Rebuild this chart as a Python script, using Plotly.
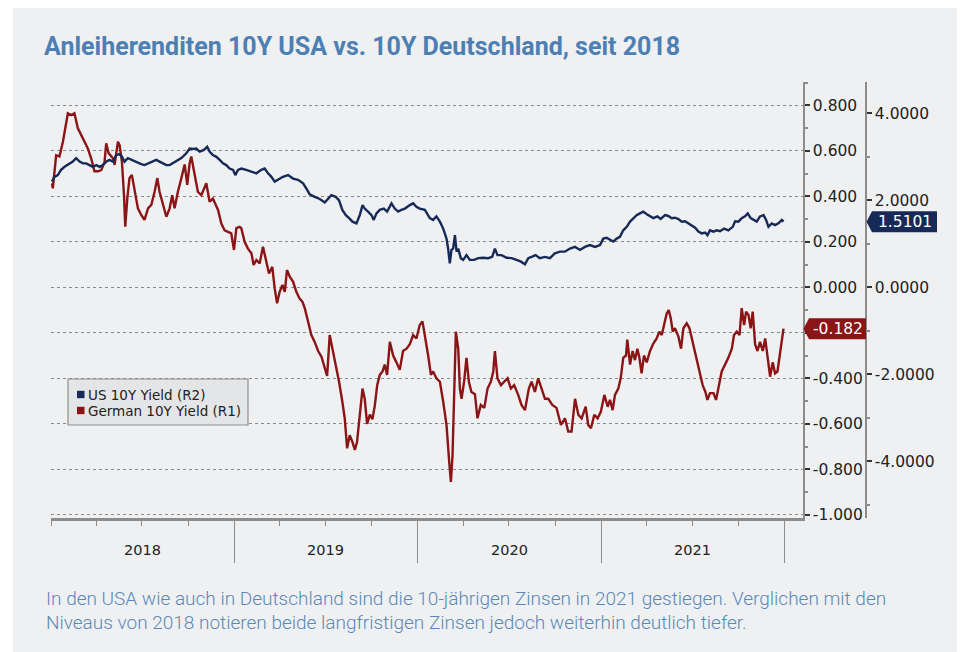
import pandas as pd
import plotly.graph_objects as go

# ---------------- data ----------------
# time as decimal years, yields in percent
de_t = [2018.005, 2018.010, 2018.028, 2018.046, 2018.065, 2018.083, 2018.092, 2018.110, 2018.128, 2018.146,
        2018.165, 2018.183, 2018.201, 2018.219, 2018.237, 2018.256, 2018.274, 2018.292, 2018.301, 2018.314,
        2018.328, 2018.338, 2018.347, 2018.365, 2018.374, 2018.387, 2018.398, 2018.405, 2018.416, 2018.428,
        2018.441, 2018.456, 2018.474, 2018.492, 2018.510, 2018.529, 2018.547, 2018.565, 2018.580, 2018.592,
        2018.610, 2018.629, 2018.647, 2018.661, 2018.674, 2018.692, 2018.711, 2018.729, 2018.743, 2018.756,
        2018.765, 2018.783, 2018.801, 2018.820, 2018.847, 2018.865, 2018.883, 2018.911, 2018.929, 2018.947,
        2018.965, 2018.983, 2018.998, 2019.011, 2019.029, 2019.038, 2019.056, 2019.074, 2019.093, 2019.105,
        2019.120, 2019.138, 2019.156, 2019.174, 2019.189, 2019.207, 2019.220, 2019.233, 2019.247, 2019.262,
        2019.275, 2019.287, 2019.302, 2019.320, 2019.338, 2019.356, 2019.371, 2019.384, 2019.402, 2019.420,
        2019.438, 2019.457, 2019.475, 2019.493, 2019.506, 2019.520, 2019.535, 2019.553, 2019.571, 2019.589,
        2019.602, 2019.615, 2019.629, 2019.644, 2019.657, 2019.669, 2019.684, 2019.699, 2019.711, 2019.724,
        2019.739, 2019.753, 2019.766, 2019.779, 2019.793, 2019.808, 2019.820, 2019.833, 2019.848, 2019.866,
        2019.884, 2019.902, 2019.920, 2019.939, 2019.957, 2019.975, 2019.993, 2020.011, 2020.026, 2020.039,
        2020.057, 2020.072, 2020.084, 2020.102, 2020.121, 2020.139, 2020.157, 2020.172, 2020.181, 2020.190,
        2020.199, 2020.208, 2020.221, 2020.230, 2020.239, 2020.253, 2020.266, 2020.279, 2020.293, 2020.312,
        2020.326, 2020.344, 2020.363, 2020.381, 2020.399, 2020.412, 2020.421, 2020.435, 2020.454, 2020.475,
        2020.490, 2020.508, 2020.526, 2020.548, 2020.566, 2020.585, 2020.606, 2020.621, 2020.639, 2020.657,
        2020.676, 2020.694, 2020.712, 2020.734, 2020.757, 2020.781, 2020.803, 2020.821, 2020.839, 2020.858,
        2020.876, 2020.894, 2020.916, 2020.930, 2020.945, 2020.963, 2020.981, 2020.999, 2021.018, 2021.036,
        2021.049, 2021.063, 2021.076, 2021.094, 2021.107, 2021.121, 2021.136, 2021.143, 2021.158, 2021.172,
        2021.185, 2021.198, 2021.209, 2021.221, 2021.234, 2021.249, 2021.267, 2021.285, 2021.303, 2021.318,
        2021.331, 2021.343, 2021.358, 2021.369, 2021.380, 2021.391, 2021.403, 2021.422, 2021.436, 2021.449,
        2021.467, 2021.482, 2021.500, 2021.518, 2021.536, 2021.554, 2021.569, 2021.580, 2021.594, 2021.613,
        2021.627, 2021.642, 2021.658, 2021.676, 2021.694, 2021.713, 2021.725, 2021.740, 2021.755, 2021.767,
        2021.780, 2021.791, 2021.804, 2021.816, 2021.827, 2021.840, 2021.853, 2021.867, 2021.882, 2021.895,
        2021.907, 2021.922, 2021.936, 2021.949, 2021.962, 2021.973, 2021.986, 2021.995]
de_yield = [0.457, 0.435, 0.58, 0.575, 0.64, 0.714, 0.765, 0.757, 0.765, 0.70,
            0.67, 0.64, 0.61, 0.567, 0.51, 0.51, 0.515, 0.55, 0.633, 0.59,
            0.575, 0.567, 0.538, 0.64, 0.625, 0.55, 0.405, 0.266, 0.39, 0.48,
            0.494, 0.42, 0.347, 0.318, 0.296, 0.347, 0.362, 0.42, 0.48, 0.42,
            0.36, 0.31, 0.347, 0.405, 0.347, 0.42, 0.48, 0.54, 0.45, 0.545,
            0.575, 0.494, 0.42, 0.405, 0.457, 0.376, 0.39, 0.34, 0.28, 0.25,
            0.245, 0.237, 0.164, 0.26, 0.266, 0.26, 0.20, 0.17, 0.15, 0.098,
            0.12, 0.105, 0.178, 0.105, 0.061, 0.09, -0.005, -0.07, -0.02, 0.01,
            -0.02, 0.076, 0.047, 0.025, -0.02, -0.05, -0.063, -0.092, -0.15, -0.21,
            -0.24, -0.28, -0.305, -0.356, -0.39, -0.21, -0.27, -0.356, -0.415, -0.503,
            -0.576, -0.708, -0.65, -0.68, -0.715, -0.68, -0.56, -0.445, -0.49, -0.60,
            -0.56, -0.58, -0.52, -0.43, -0.385, -0.37, -0.34, -0.385, -0.24, -0.30,
            -0.33, -0.363, -0.28, -0.27, -0.25, -0.21, -0.225, -0.166, -0.15, -0.21,
            -0.30, -0.385, -0.37, -0.40, -0.415, -0.503, -0.605, -0.77, -0.855, -0.737,
            -0.47, -0.195, -0.27, -0.445, -0.49, -0.415, -0.31, -0.415, -0.46, -0.47,
            -0.576, -0.517, -0.53, -0.445, -0.415, -0.37, -0.28, -0.40, -0.43, -0.415,
            -0.40, -0.445, -0.43, -0.473, -0.517, -0.54, -0.445, -0.415, -0.46, -0.40,
            -0.445, -0.49, -0.49, -0.517, -0.53, -0.605, -0.576, -0.634, -0.634, -0.49,
            -0.56, -0.576, -0.525, -0.605, -0.62, -0.56, -0.576, -0.546, -0.473, -0.525,
            -0.495, -0.54, -0.473, -0.445, -0.40, -0.31, -0.30, -0.23, -0.34, -0.28,
            -0.32, -0.27, -0.31, -0.378, -0.30, -0.33, -0.28, -0.247, -0.225, -0.195,
            -0.21, -0.166, -0.115, -0.10, -0.136, -0.195, -0.18, -0.217, -0.27, -0.18,
            -0.158, -0.18, -0.24, -0.31, -0.37, -0.43, -0.46, -0.495, -0.465, -0.465,
            -0.495, -0.43, -0.37, -0.34, -0.31, -0.27, -0.21, -0.195, -0.21, -0.092,
            -0.166, -0.107, -0.122, -0.18, -0.107, -0.25, -0.28, -0.24, -0.28, -0.225,
            -0.31, -0.393, -0.33, -0.378, -0.37, -0.30, -0.225, -0.182]

us_t = [2018.005, 2018.019, 2018.037, 2018.055, 2018.074, 2018.101, 2018.119, 2018.137, 2018.156, 2018.174,
        2018.192, 2018.210, 2018.228, 2018.247, 2018.265, 2018.283, 2018.301, 2018.319, 2018.338, 2018.356,
        2018.374, 2018.387, 2018.401, 2018.419, 2018.438, 2018.456, 2018.474, 2018.492, 2018.510, 2018.529,
        2018.547, 2018.574, 2018.592, 2018.610, 2018.629, 2018.647, 2018.665, 2018.683, 2018.711, 2018.738,
        2018.756, 2018.774, 2018.792, 2018.811, 2018.834, 2018.852, 2018.865, 2018.883, 2018.902, 2018.920,
        2018.938, 2018.956, 2018.974, 2018.993, 2019.005, 2019.020, 2019.038, 2019.065, 2019.093, 2019.120,
        2019.147, 2019.165, 2019.184, 2019.202, 2019.220, 2019.238, 2019.265, 2019.293, 2019.320, 2019.347,
        2019.375, 2019.393, 2019.411, 2019.438, 2019.466, 2019.493, 2019.511, 2019.529, 2019.553, 2019.571,
        2019.589, 2019.608, 2019.626, 2019.644, 2019.666, 2019.684, 2019.699, 2019.711, 2019.729, 2019.748,
        2019.760, 2019.775, 2019.793, 2019.815, 2019.833, 2019.857, 2019.875, 2019.893, 2019.911, 2019.930,
        2019.957, 2019.975, 2019.993, 2020.011, 2020.039, 2020.066, 2020.084, 2020.102, 2020.121, 2020.139,
        2020.157, 2020.166, 2020.175, 2020.184, 2020.193, 2020.203, 2020.212, 2020.221, 2020.235, 2020.248,
        2020.266, 2020.284, 2020.308, 2020.330, 2020.357, 2020.384, 2020.406, 2020.421, 2020.435, 2020.457,
        2020.485, 2020.512, 2020.539, 2020.563, 2020.585, 2020.603, 2020.621, 2020.643, 2020.666, 2020.694,
        2020.721, 2020.748, 2020.776, 2020.803, 2020.830, 2020.858, 2020.885, 2020.912, 2020.939, 2020.967,
        2020.994, 2021.012, 2021.030, 2021.049, 2021.067, 2021.085, 2021.103, 2021.121, 2021.140, 2021.158,
        2021.176, 2021.194, 2021.212, 2021.230, 2021.249, 2021.267, 2021.285, 2021.307, 2021.325, 2021.349,
        2021.367, 2021.385, 2021.403, 2021.422, 2021.440, 2021.458, 2021.476, 2021.494, 2021.513, 2021.531,
        2021.549, 2021.567, 2021.580, 2021.594, 2021.613, 2021.631, 2021.649, 2021.671, 2021.694, 2021.718,
        2021.731, 2021.749, 2021.767, 2021.785, 2021.800, 2021.816, 2021.831, 2021.849, 2021.867, 2021.886,
        2021.900, 2021.913, 2021.931, 2021.949, 2021.967, 2021.986, 2021.995]
us_yield = [2.43, 2.54, 2.58, 2.70, 2.77, 2.85, 2.89, 2.97, 2.89, 2.85,
            2.85, 2.81, 2.77, 2.81, 2.77, 2.81, 2.89, 2.93, 2.89, 3.04,
            3.06, 3.00, 2.89, 2.97, 2.93, 2.89, 2.85, 2.83, 2.81, 2.85,
            2.89, 2.93, 2.89, 2.85, 2.81, 2.81, 2.85, 2.89, 2.97, 3.08,
            3.19, 3.18, 3.19, 3.12, 3.16, 3.23, 3.12, 3.04, 3.00, 2.93,
            2.85, 2.81, 2.73, 2.70, 2.58, 2.70, 2.73, 2.70, 2.66, 2.62,
            2.70, 2.73, 2.62, 2.54, 2.43, 2.47, 2.54, 2.58, 2.50, 2.47,
            2.39, 2.27, 2.14, 2.08, 2.03, 1.95, 2.04, 2.12, 2.08, 2.00,
            1.78, 1.66, 1.59, 1.51, 1.47, 1.66, 1.89, 1.81, 1.74, 1.66,
            1.55, 1.70, 1.78, 1.81, 1.74, 1.93, 1.81, 1.74, 1.78, 1.81,
            1.89, 1.93, 1.85, 1.81, 1.78, 1.59, 1.55, 1.63, 1.51, 1.35,
            1.12, 0.89, 0.55, 0.86, 0.89, 1.20, 0.82, 0.89, 0.67, 0.63,
            0.74, 0.63, 0.63, 0.67, 0.68, 0.67, 0.70, 0.89, 0.74, 0.74,
            0.68, 0.67, 0.63, 0.59, 0.53, 0.67, 0.70, 0.74, 0.67, 0.70,
            0.67, 0.78, 0.82, 0.82, 0.89, 0.93, 0.86, 0.93, 0.97, 0.93,
            0.97, 1.12, 1.14, 1.09, 1.05, 1.12, 1.16, 1.31, 1.39, 1.51,
            1.59, 1.66, 1.70, 1.74, 1.68, 1.63, 1.59, 1.63, 1.57, 1.66,
            1.64, 1.59, 1.60, 1.57, 1.51, 1.52, 1.47, 1.42, 1.37, 1.28,
            1.24, 1.26, 1.20, 1.31, 1.28, 1.31, 1.29, 1.35, 1.31, 1.39,
            1.52, 1.51, 1.59, 1.63, 1.70, 1.59, 1.55, 1.51, 1.63, 1.66,
            1.55, 1.39, 1.47, 1.43, 1.47, 1.55, 1.5101]

r1_ticks = [-1.0, -0.8, -0.6, -0.4, -0.2, 0.0, 0.2, 0.4, 0.6, 0.8]
r2_ticks = [-4, -2, 0, 2, 4]
year_labels = ["2018", "2019", "2020", "2021"]

title_text = "Anleiherenditen 10Y USA vs. 10Y Deutschland, seit 2018"
caption_1 = "In den USA wie auch in Deutschland sind die 10-jährigen Zinsen in 2021 gestiegen. Verglichen mit den"
caption_2 = "Niveaus von 2018 notieren beide langfristigen Zinsen jedoch weiterhin deutlich tiefer."
us_name = "US 10Y Yield (R2)"
de_name = "German 10Y Yield (R1)"

# ---------------- helpers ----------------
BASE = pd.Timestamp("2018-01-01")


def to_dates(ts):
    return [BASE + pd.Timedelta(days=(t - 2018.0) * 365.25) for t in ts]


OFF = 8  # page body margin: figure origin sits at (8, 8) in the window
W, H = 965 - OFF, 652 - OFF
# plot area in window pixels: left 51, right 803 (R1) / 866 (R2), top 82, bottom 518
PL, PR, PT, PB = 51, 866, 82, 518
L, R, T, B = PL - OFF, W - (PR - OFF), PT - OFF, H - (PB - OFF)
PW, PH = PR - PL, PB - PT


def px(x):
    return (x - PL) / PW


def py(y):
    return (PB - y) / PH


US_C = "#172a57"
DE_C = "#8b1416"
AX_C = "#8c8c8c"
BG = "#eff0f2"
TXT = "#222222"
BLUE_TXT = "#4c7fb3"
FONT = "DejaVu Sans"

R1_RANGE = [-1.0141, 0.9024]
R2_RANGE = [-5.303, 4.72]
x_end_dom = px(803)

fig = go.Figure()
fig.add_trace(go.Scatter(x=to_dates(de_t), y=de_yield, mode="lines", name=de_name,
                         line=dict(color=DE_C, width=2.4), yaxis="y", showlegend=False))
fig.add_trace(go.Scatter(x=to_dates(us_t), y=us_yield, mode="lines", name=us_name,
                         line=dict(color=US_C, width=2.4), yaxis="y2", showlegend=False))

shapes = []
annotations = []

# background panel
shapes.append(dict(type="rect", xref="paper", yref="paper", x0=px(13), x1=px(970), y0=py(660), y1=py(5),
                   fillcolor=BG, line=dict(width=0), layer="below"))

# legend box
shapes.append(dict(type="rect", xref="paper", yref="paper", x0=px(68), x1=px(248), y0=py(425), y1=py(379),
                   fillcolor="#e4e5e7", line=dict(color="#8f8f8f", width=1.2), layer="above"))
for color, yc, name in [(US_C, 394.5, us_name), (DE_C, 410.5, de_name)]:
    shapes.append(dict(type="rect", xref="paper", yref="paper", x0=px(77), x1=px(84.5),
                       y0=py(yc + 3.7), y1=py(yc - 3.7), fillcolor=color, line=dict(width=0), layer="above"))
    annotations.append(dict(text=name, xref="paper", yref="paper", x=px(85.5), y=py(yc),
                            xanchor="left", yanchor="middle", showarrow=False,
                            font=dict(family=FONT, size=13.5, color=TXT)))

# last-value tags
us_last = us_yield[-1]
de_last = de_yield[-1]
hh2 = 10.5 / (PH / (R2_RANGE[1] - R2_RANGE[0]))
hh1 = 10.5 / (PH / (R1_RANGE[1] - R1_RANGE[0]))
tip2, l2, r2 = px(866.5), px(872), px(937)
shapes.append(dict(type="path", xref="paper", yref="y2", layer="above",
                   path=f"M {tip2},{us_last} L {l2},{us_last + hh2} L {r2},{us_last + hh2} "
                        f"L {r2},{us_last - hh2} L {l2},{us_last - hh2} Z",
                   fillcolor=US_C, line=dict(width=0)))
annotations.append(dict(text=f"{us_last:.4f}", xref="paper", yref="y2", x=(l2 + r2) / 2, y=us_last,
                        xanchor="center", yanchor="middle", showarrow=False,
                        font=dict(family=FONT, size=15.5, color="white")))
tip1, l1, r1 = px(803.5), px(809), px(866)
shapes.append(dict(type="path", xref="paper", yref="y", layer="above",
                   path=f"M {tip1},{de_last} L {l1},{de_last + hh1} L {r1},{de_last + hh1} "
                        f"L {r1},{de_last - hh1} L {l1},{de_last - hh1} Z",
                   fillcolor=DE_C, line=dict(width=0)))
annotations.append(dict(text=f"{de_last:.3f}", xref="paper", yref="y", x=(l1 + r1) / 2, y=de_last,
                        xanchor="center", yanchor="middle", showarrow=False,
                        font=dict(family=FONT, size=15.5, color="white")))

# year labels centred in each year
for yl in year_labels:
    annotations.append(dict(text=yl, xref="x", yref="paper", x=f"{yl}-07-02", y=py(550),
                            xanchor="center", yanchor="middle", showarrow=False,
                            font=dict(family=FONT, size=14.5, color=TXT)))

# title and caption
annotations.append(dict(text=f"<b>{title_text}</b>", xref="paper", yref="paper", x=px(42), y=py(47),
                        xanchor="left", yanchor="middle", showarrow=False,
                        font=dict(family="Roboto", size=25, color=BLUE_TXT)))
annotations.append(dict(text=caption_1, xref="paper", yref="paper", x=px(44), y=py(598),
                        xanchor="left", yanchor="middle", showarrow=False,
                        font=dict(family="Roboto", size=19, color="#5a88b8", weight=300)))
annotations.append(dict(text=caption_2, xref="paper", yref="paper", x=px(44), y=py(622),
                        xanchor="left", yanchor="middle", showarrow=False,
                        font=dict(family="Roboto", size=19, color="#5a88b8", weight=300)))

fig.update_layout(
    width=W, height=H,
    margin=dict(l=L, r=R, t=T, b=B, pad=0),
    paper_bgcolor="white",
    plot_bgcolor="rgba(0,0,0,0)",
    showlegend=False,
    shapes=shapes,
    annotations=annotations,
    xaxis=dict(
        type="date", domain=[0, x_end_dom], range=["2018-01-01", "2022-02-07"],
        showline=True, linecolor=AX_C, linewidth=2.5,
        ticks="outside", tickmode="array",
        tickvals=["2019-01-01", "2020-01-01", "2021-01-01", "2022-01-01"],
        ticklen=42, tickwidth=1, tickcolor=AX_C, showticklabels=False,
        showgrid=False, zeroline=False,
        minor=dict(ticks="outside", ticklen=5, tickwidth=1, tickcolor=AX_C,
                   tickmode="linear", tick0="2018-01-01", dtick="M3", showgrid=False),
    ),
    yaxis=dict(
        side="right", anchor="x", range=R1_RANGE,
        tickmode="array", tickvals=r1_ticks,
        ticktext=["" if abs(v - de_last) < 0.05 else f"{v:.3f}" for v in r1_ticks],
        ticks="outside", ticklen=5, tickwidth=1.5, tickcolor="#333333",
        showline=True, linecolor=AX_C, linewidth=1.5,
        showgrid=True, gridcolor="#8a8a8a", griddash="dot", gridwidth=1,
        zeroline=False, tickfont=dict(family=FONT, size=15.5, color=TXT),
        minor=dict(ticks="outside", ticklen=3, tickcolor=AX_C, tickmode="linear",
                   tick0=0, dtick=0.1, showgrid=False),
    ),
    yaxis2=dict(
        overlaying="y", side="right", anchor="free", position=1.0, range=R2_RANGE,
        tickmode="array", tickvals=r2_ticks, ticktext=[f"{v:.4f}" for v in r2_ticks],
        ticks="outside", ticklen=5, tickwidth=1.5, tickcolor="#333333",
        showline=True, linecolor=AX_C, linewidth=1.5,
        showgrid=False, zeroline=False, tickfont=dict(family=FONT, size=15.5, color=TXT),
        minor=dict(ticks="outside", ticklen=3, tickcolor=AX_C, tickmode="linear",
                   tick0=0, dtick=1, showgrid=False),
    ),
)

fig.write_html("out.html")
